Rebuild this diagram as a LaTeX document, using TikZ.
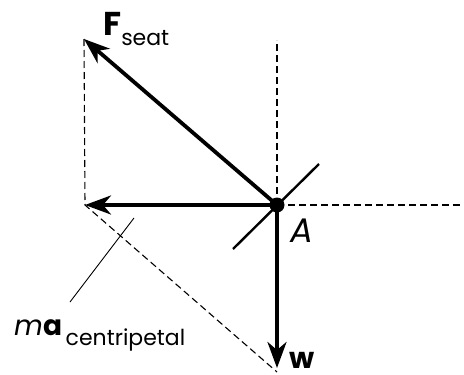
\documentclass[tikz,border=0pt]{standalone}
\usepackage{fontspec}
\setmainfont{Poppins}
\usetikzlibrary{arrows.meta}
\begin{document}
\begin{tikzpicture}[x=1pt,y=-1pt,
  force/.style={line width=3.8pt,-{Stealth[length=26pt,width=19pt,inset=8pt]}},
  guide/.style={line width=1.1pt,dash pattern=on 7pt off 4pt},
  lbl/.style={inner sep=0pt,anchor=base west}]
\useasboundingbox (0,0) rectangle (464,375);
\coordinate (A) at (277,205);
\coordinate (F) at (84,39);
\coordinate (M) at (85,205);
\coordinate (W) at (277,372);
\coordinate (Wt) at (277,368);
\coordinate (Vt) at (277,40);
\coordinate (Hr) at (462,205);
\draw[guide] (F) -- (M) -- (W);
\draw[guide] (A) -- (Vt);
\draw[guide] (A) -- (Hr);
\draw[line width=2.4pt] (233,249) -- (319,164);
\draw[force] (A) -- (F);
\draw[force] (A) -- (M);
\draw[force] (A) -- (Wt);
\fill (A) circle (7.5pt);
\coordinate (L1) at (70,302);
\coordinate (L2) at (134,218);
\draw[line width=0.9pt] (L1) -- (L2);
\node[lbl,font=\fontsize{33}{33}\selectfont] (Fs) at (103,35) {\textbf{F}\raisebox{-10pt}{\fontsize{22}{22}\selectfont seat}};
\node[lbl,font=\fontsize{34}{34}\selectfont] (Al) at (290,242) {\textit{A}};
\node[lbl,font=\fontsize{29}{29}\selectfont] (Wl) at (289,368) {\textbf{w}};
\node[lbl,font=\fontsize{28}{28}\selectfont] (Ma) at (14,335) {\textit{m}\textbf{a}\raisebox{-10pt}{\fontsize{22}{22}\selectfont\,centripetal}};
\end{tikzpicture}
\end{document}
